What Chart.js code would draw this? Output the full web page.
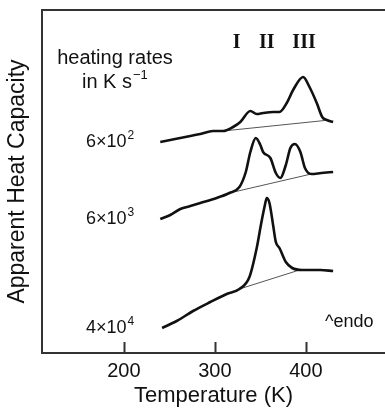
<!DOCTYPE html>
<html>
<head>
<meta charset="utf-8">
<script src="https://cdn.jsdelivr.net/npm/chart.js@4/dist/chart.umd.min.js"></script>
<style>
  html, body { margin: 0; padding: 0; background: #fff; }
  #wrap { width: 385px; height: 409px; }
</style>
</head>
<body>
<div id="wrap"><canvas id="c" width="385" height="409"></canvas></div>
<script>
// temperatures (K) and apparent heat capacity (arbitrary units, curves offset)
const temp1 = [240, 251, 262, 273, 284, 298, 309, 320, 328, 339, 346, 353, 364, 371, 379, 386, 397, 404, 412, 418, 423, 430];
const cp1   = [211, 213, 215, 217, 219, 222, 222, 226, 231, 242, 239, 240, 241, 241, 250, 263, 276, 266, 250, 236, 233, 231];
const base1T = [309, 426];
const base1  = [222, 233];

const temp2 = [240, 251, 262, 273, 284, 302, 316, 327, 334, 339, 345, 350, 353, 361, 367, 372, 378, 383, 388, 394, 399, 406, 417, 430];
const cp2   = [134, 138, 144, 147, 150, 155, 160, 166, 181, 201, 215, 208, 201, 195, 180, 175, 188, 205, 209, 201, 185, 179, 180, 181];
const base2T = [316, 406];
const base2  = [160, 179];

const temp3 = [242, 258, 276, 295, 313, 327, 338, 346, 351, 355, 357, 360, 364, 367, 371, 378, 385, 396, 404, 416, 430];
const cp3   = [25, 32, 42, 51, 59, 64, 76, 105, 130, 148, 155, 150, 128, 111, 105, 91, 85, 83, 83, 83, 82];
const base3T = [327, 393];
const base3  = [64, 83];

const xTicks = [200, 300, 400];
const peakNames = ['I', 'II', 'III'];
const peakTemps = [324, 357, 398];

function pts(xs, ys) { return xs.map((x, i) => ({ x: x, y: ys[i] })); }

const curve = (xs, ys) => ({
  data: pts(xs, ys), borderColor: '#111', borderWidth: 2.6,
  pointRadius: 0, cubicInterpolationMode: 'monotone', fill: false
});
const base = (xs, ys) => ({
  data: pts(xs, ys), borderColor: '#555', borderWidth: 1,
  pointRadius: 0, tension: 0, fill: false
});

const labelsPlugin = {
  id: 'labels',
  afterDraw(chart) {
    const ctx = chart.ctx;
    const x = chart.scales.x, y = chart.scales.y;
    ctx.save();
    ctx.fillStyle = '#111';
    ctx.strokeStyle = '#333';
    ctx.lineWidth = 2;
    // inward tick marks on bottom axis
    xTicks.forEach(v => {
      const px = Math.round(x.getPixelForValue(v)) + 0.5;
      ctx.beginPath();
      ctx.moveTo(px, y.bottom);
      ctx.lineTo(px, y.bottom - 11);
      ctx.stroke();
    });

    ctx.textBaseline = 'middle';
    ctx.font = '20px "Liberation Sans", Arial, sans-serif';
    ctx.textAlign = 'center';
    ctx.fillText('heating rates', 115, 58);
    ctx.textAlign = 'left';
    ctx.fillText('in K s', 82, 82);
    let w = ctx.measureText('in K s').width;
    ctx.font = '13px "Liberation Sans", Arial, sans-serif';
    ctx.fillText('\u22121', 82 + w + 1, 75);

    // rate labels next to curve starts
    const rates = [['6\u00d710', '2', cp1[0]], ['6\u00d710', '3', cp2[0]], ['4\u00d710', '4', cp3[0]]];
    rates.forEach(r => {
      const py = y.getPixelForValue(r[2]);
      ctx.font = '18px "Liberation Sans", Arial, sans-serif';
      ctx.textAlign = 'left';
      ctx.fillText(r[0], 86, py);
      const tw = ctx.measureText(r[0]).width;
      ctx.font = '12px "Liberation Sans", Arial, sans-serif';
      ctx.fillText(r[1], 86 + tw + 1, py - 6);
    });

    ctx.font = '18px "Liberation Sans", Arial, sans-serif';
    ctx.textAlign = 'left';
    ctx.fillText('^endo', 325, 322);

    ctx.font = 'bold 20px "Liberation Serif", "Times New Roman", serif';
    ctx.textAlign = 'center';
    peakNames.forEach((n, i) => {
      ctx.fillText(n, x.getPixelForValue(peakTemps[i]), 43);
    });
    ctx.restore();
  }
};

new Chart(document.getElementById('c'), {
  type: 'line',
  data: {
    datasets: [
      curve(temp1, cp1), base(base1T, base1),
      curve(temp2, cp2), base(base2T, base2),
      curve(temp3, cp3), base(base3T, base3)
    ]
  },
  options: {
    responsive: false,
    animation: false,
    layout: { padding: { left: 0, right: 0, top: 0, bottom: 0 } },
    plugins: { legend: { display: false }, tooltip: { enabled: false } },
    scales: {
      x: {
        type: 'linear', min: 110, max: 487,
        afterBuildTicks: s => { s.ticks = xTicks.map(v => ({ value: v })); },
        afterFit: s => { s.height = 56; },
        grid: { display: false, drawTicks: false },
        border: { display: true, color: '#333', width: 2 },
        ticks: { color: '#111', font: { size: 20, family: 'Liberation Sans' }, padding: 6, maxRotation: 0 },
        title: { display: true, text: 'Temperature (K)', color: '#111',
                 font: { size: 22, family: 'Liberation Sans' }, padding: { top: 0, bottom: 0 } }
      },
      xTop: {
        type: 'linear', position: 'top', min: 110, max: 487,
        afterFit: s => { s.height = 10; },
        grid: { display: false, drawTicks: false },
        border: { display: true, color: '#333', width: 2 },
        ticks: { display: false }
      },
      y: {
        type: 'linear', min: 0, max: 343,
        afterFit: s => { s.width = 42; },
        grid: { display: false, drawTicks: false },
        border: { display: true, color: '#333', width: 2 },
        ticks: { display: false },
        title: { display: true, text: 'Apparent Heat Capacity', color: '#111',
                 font: { size: 23, family: 'Liberation Sans' }, padding: { top: 4, bottom: 0 } }
      }
    }
  },
  plugins: [labelsPlugin]
});
</script>
</body>
</html>
